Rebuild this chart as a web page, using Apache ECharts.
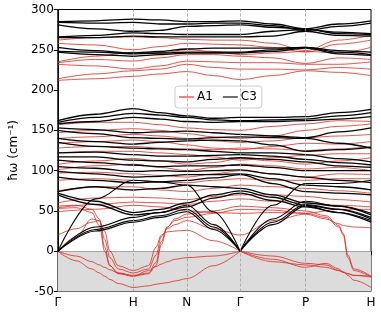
<!DOCTYPE html>
<html><head><meta charset="utf-8">
<script src="https://cdn.jsdelivr.net/npm/echarts@6/dist/echarts.min.js"></script>
<style>html,body{margin:0;padding:0;background:#fff}#c{width:381px;height:316px}</style>
</head><body><div id="c"></div>
<script>
// High-symmetry path (bcc): Γ-H-N-Γ-P-H, in units of 2π/a
const kTicks = [0, 1, 1.7071, 2.4142, 3.2802, 4.1463];
const kLabels = ['Γ', 'H', 'N', 'Γ', 'P', 'H'];
// sampling grids
const kMain = [0, 0.5, 1, 1.354, 1.7071, 2.061, 2.4142, 2.847, 3.2802, 3.713, 4.1463];
const kSoft = [0, 0.25, 0.45, 0.55, 0.62, 0.69, 0.8, 1, 1.2, 1.3, 1.37, 1.45, 1.55, 1.7071, 2.061, 2.4142, 2.847, 3.2802, 3.55, 3.72, 3.78, 3.84, 3.92, 4.1463];
const yTicks = [-50, 0, 50, 100, 150, 200, 250, 300];

// A1 (red) bands on kMain
const a1Main = [
  [262, 265, 266, 265, 263, 262, 262, 258, 249, 262, 268],
  [258, 256, 250, 254, 258, 257, 256, 253, 247, 257, 262],
  [235, 242, 247, 246, 250, 248, 244, 246, 248, 246, 253],
  [234, 238, 236, 240, 244, 244, 242, 240, 233, 240, 238],
  [232, 230, 226, 230, 236, 235, 234, 234, 232, 232, 235],
  [214, 220, 224, 226, 232, 228, 226, 226, 225, 228, 226],
  [212, 214, 217, 220, 223, 218, 213, 218, 224, 222, 218],
  [157, 160, 160, 157, 153, 151, 150, 155, 158, 162, 161],
  [147, 150, 152, 150, 146, 142, 140, 143, 150, 155, 158],
  [140, 142, 145, 143, 140, 137, 135, 137, 141, 143, 145],
  [134, 136, 138, 136, 132, 128, 126, 130, 134, 133, 136],
  [128, 130, 130, 128, 127, 126, 128, 127, 125, 127, 130],
  [122, 124, 124, 122, 120, 117, 113, 116, 119, 121, 121],
  [108, 112, 115, 112, 108, 110, 115, 112, 108, 112, 116],
  [101, 106, 108, 104, 100, 104, 108, 106, 102, 104, 100],
  [97, 98, 96, 94, 92, 96, 100, 96, 92, 96, 95],
  [88, 90, 88, 86, 85, 88, 90, 88, 88, 90, 90],
  [75, 80, 80, 76, 74, 78, 82, 80, 78, 75, 72],
  [60, 66, 67, 66, 64, 68, 70, 70, 68, 64, 61],
  [54, 58, 61, 60, 58, 62, 65, 62, 60, 57, 55],
  [49, 52, 57, 55, 50, 48, 47, 48, 47, 52, 52]
];
// A1 (red) soft / acoustic bands on kSoft
const a1Soft = [
  [56, 57, 52, 40, 5, -18, -28, -31, -28, -18, 8, 30, 40, 46, 50, 56, 54, 50, 44, 32, 22, -5, -22, -31],
  [53, 54, 48, 32, 0, -18, -27, -30, -27, -14, 12, 30, 38, 42, 47, 52, 51, 47, 42, 30, 20, -8, -24, -32],
  [0, 18, 40, 38, 15, -8, -22, -27, -22, -5, 18, 28, 33, 38, 28, 20, 38, 46, 40, 34, 32, 31, 30, 29],
  [20, 28, 36, 38, 25, 0, -18, -24, -18, 5, 20, 24, 25, 26, 13, 0, -6, -15, -17, -24, -26, -28, -30, -31],
  [0, -12, -22, -27, -31, -35, -40, -45, -43, -41, -40, -39, -37, -34, -18, 0, -10, -20, -15, -22, -26, -30, -36, -45],
  [0, -6, -13, -17, -20, -23, -27, -31, -24, -19, -16, -13, -10, -8, -6, 0, -13, -17, -20, -24, -26, -28, -30, -32]
];
const a1SoftCusp = [false, false, false, true, true, true]; // V-shaped at Γ
// C3 (black) bands on kMain
const c3Main = [
  [285, 286, 288, 287, 285, 285, 286, 282, 276, 282, 286],
  [284, 283, 284, 282, 282, 283, 283, 280, 274, 279, 283],
  [281, 276, 273, 274, 279, 280, 281, 278, 276, 270, 269],
  [266, 268, 271, 270, 269, 269, 269, 273, 275, 272, 270],
  [265, 265, 267, 266, 266, 266, 266, 267, 273, 268, 267],
  [253, 249, 246, 248, 251, 252, 252, 252, 253, 249, 247],
  [248, 247, 245, 246, 247, 247, 247, 250, 253, 247, 244],
  [247, 244, 242, 244, 246, 246, 246, 248, 252, 245, 243],
  [162, 170, 177, 172, 168, 165, 166, 166, 167, 172, 176],
  [160, 166, 171, 169, 166, 163, 162, 163, 164, 168, 172],
  [158, 161, 166, 164, 161, 160, 161, 161, 162, 164, 167],
  [153, 151, 147, 148, 149, 147, 145, 143, 141, 148, 153],
  [150, 146, 141, 140, 139, 141, 142, 141, 140, 134, 128],
  [140, 136, 133, 135, 137, 138, 137, 132, 124, 126, 129],
  [135, 130, 128, 127, 126, 124, 122, 122, 120, 115, 111],
  [122, 123, 120, 118, 118, 119, 120, 118, 114, 110, 107],
  [117, 117, 113, 112, 111, 114, 116, 114, 111, 106, 104],
  [113, 110, 107, 105, 106, 106, 107, 104, 100, 100, 100],
  [105, 103, 99, 100, 99, 100, 101, 96, 92, 88, 85],
  [99, 96, 92, 93, 95, 95, 96, 90, 82, 80, 76],
  [92, 88, 85, 86, 88, 91, 95, 84, 74, 72, 70],
  [74, 80, 76, 78, 82, 80, 78, 70, 60, 56, 45],
  [72, 62, 48, 52, 60, 70, 75, 67, 57, 52, 40],
  [70, 58, 45, 48, 55, 66, 72, 63, 55, 48, 36]
];
// C3 (black) acoustic bands on kMain (V-shaped at Γ)
const c3Acoustic = [
  [0, 30, 42, 48, 57, 33, 0, 40, 62, 56, 47],
  [0, 27, 38, 44, 52, 30, 0, 36, 58, 52, 42],
  [0, 25, 36, 42, 49, 27, 0, 33, 56, 48, 38],
  [0, 65, 88, 86, 82, 49, 0, 57, 84, 84, 88]
];

const RED = '#dc2a1e';
const BLACK = '#000000';
const FONT = 'DejaVu Sans';
const GAMMA2 = kTicks[3];

function segs(ks, vals, cusp) {
  const pts = ks.map((k, i) => [k, vals[i]]);
  if (!cusp) return [pts];
  const j = ks.indexOf(GAMMA2);
  return [pts.slice(0, j + 1), pts.slice(j)];
}
function addBand(list, name, ks, vals, color, width, z, cusp) {
  segs(ks, vals, cusp).forEach(d => list.push({
    type: 'line', name: name, data: d,
    symbol: 'none', smooth: 0.35, smoothMonotone: 'x', silent: true, z: z,
    lineStyle: { color: color, width: width }, itemStyle: { color: color }
  }));
}

const series = [];
series.push({
  type: 'line', data: [], silent: true, z: 1,
  markArea: { silent: true, itemStyle: { color: '#dcdcdc' }, data: [[{ yAxis: -50 }, { yAxis: 0 }]] },
  markLine: {
    silent: true, symbol: 'none', label: { show: false },
    lineStyle: { color: '#a0a0a0', type: [3, 2], width: 0.8 },
    data: kTicks.slice(1, 5).map(k => ({ xAxis: k }))
  }
});
a1Main.forEach(v => addBand(series, 'A1', kMain, v, RED, 0.8, 2, false));
a1Soft.forEach((v, i) => addBand(series, 'A1', kSoft, v, RED, 0.8, 2, a1SoftCusp[i]));
c3Main.forEach(v => addBand(series, 'C3', kMain, v, BLACK, 1.3, 3, false));
c3Acoustic.forEach(v => addBand(series, 'C3', kMain, v, BLACK, 1.1, 3, true));

const chart = echarts.init(document.getElementById('c'), null, { renderer: 'canvas' });
chart.setOption({
  animation: false,
  backgroundColor: '#fff',
  grid: { left: 56, right: 10, top: 9.5, bottom: 24.5, show: true, borderColor: '#000', borderWidth: 1, backgroundColor: 'transparent' },
  legend: {
    data: ['A1', 'C3'], left: 175, top: 86, orient: 'horizontal',
    icon: 'path://M0,0 L16,0 L16,1.2 L0,1.2 Z',
    padding: [5, 5, 5, 4], itemGap: 10, itemWidth: 15, itemHeight: 1.2,
    borderColor: '#cccccc', borderWidth: 1, borderRadius: 3, backgroundColor: 'rgba(255,255,255,0.85)',
    textStyle: { fontFamily: FONT, fontSize: 12, color: '#000', padding: [0, 0, 0, -2] },
    selectedMode: false
  },
  xAxis: {
    type: 'value', min: 0, max: kTicks[kTicks.length - 1],
    axisLine: { show: true, lineStyle: { color: '#000', width: 1 } },
    axisTick: { show: true, customValues: kTicks, inside: false, length: 4, lineStyle: { color: '#000' } },
    axisLabel: {
      customValues: kTicks, fontFamily: FONT, fontSize: 12, color: '#000', margin: 5,
      formatter: v => { const i = kTicks.findIndex(t => Math.abs(t - v) < 1e-3); return i >= 0 ? kLabels[i] : ''; }
    },
    splitLine: { show: false }
  },
  yAxis: {
    type: 'value', min: -50, max: 300, interval: 50,
    name: 'ħω (cm⁻¹)', nameLocation: 'middle', nameGap: 36,
    nameTextStyle: { fontFamily: FONT, fontSize: 12, color: '#000' },
    axisLine: { show: true, lineStyle: { color: '#000', width: 1 } },
    axisTick: { show: true, inside: false, length: 4, lineStyle: { color: '#000' } },
    axisLabel: { fontFamily: FONT, fontSize: 12, color: '#000', margin: 4, formatter: v => yTicks.includes(v) ? String(v) : '' },
    splitLine: { show: false }
  },
  series: series
});
</script></body></html>
